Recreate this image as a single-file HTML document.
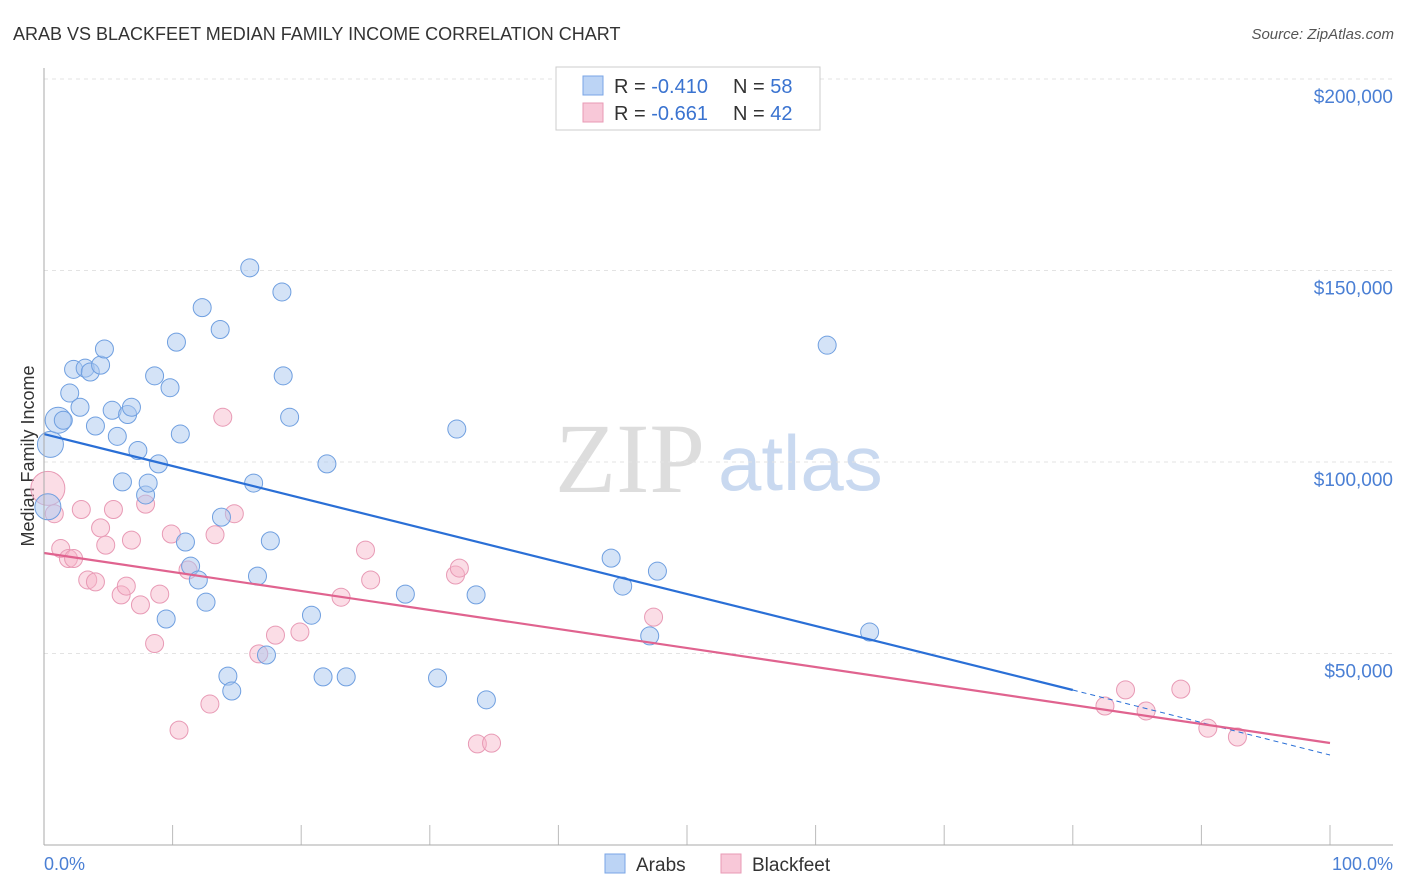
<!DOCTYPE html>
<html><head><meta charset="utf-8">
<style>
body{margin:0;background:#fff;font-family:"Liberation Sans",sans-serif;}
svg{display:block}
</style></head>
<body>
<svg id="chart" width="1406" height="892">
<text x="13" y="40" font-size="18" fill="#333">ARAB VS BLACKFEET MEDIAN FAMILY INCOME CORRELATION CHART</text>
<text x="1394" y="39" font-size="15" font-style="italic" fill="#555" text-anchor="end">Source: ZipAtlas.com</text>
<text transform="translate(34,456) rotate(-90)" font-size="18" fill="#333" text-anchor="middle">Median Family Income</text>
<text x="555" y="492" font-size="100" font-family="Liberation Serif,serif" fill="#ddd">ZIP</text>
<text x="718" y="490" font-size="78" fill="#c9d9f0">atlas</text>
<g id="grid"></g><g id="pts"></g><g id="lines"></g>
<line x1="44" y1="68" x2="44" y2="845" stroke="#aaa"/>
<line x1="44" y1="845" x2="1393" y2="845" stroke="#aaa"/>
<text x="44" y="870" font-size="18" fill="#4a7fd4">0.0%</text>
<text x="1393" y="870" font-size="18" fill="#4a7fd4" text-anchor="end">100.0%</text>
<g>
<rect x="556" y="67" width="264" height="63" fill="#fff" stroke="#ccc"/>
<rect x="583" y="76" width="20" height="19" fill="#bcd4f5" stroke="#7aa5e6"/>
<rect x="583" y="103" width="20" height="19" fill="#f8c8d8" stroke="#e89ab5"/>
<text x="614" y="93" font-size="20" fill="#333">R = <tspan fill="#3a73d0">-0.410</tspan><tspan x="733">N = </tspan><tspan fill="#3a73d0">58</tspan></text>
<text x="614" y="120" font-size="20" fill="#333">R = <tspan fill="#3a73d0"> -0.661</tspan><tspan x="733">N = </tspan><tspan fill="#3a73d0">42</tspan></text>
</g>
<g>
<rect x="605" y="854" width="20" height="19" fill="#bcd4f5" stroke="#7aa5e6"/>
<text x="636" y="871" font-size="19" fill="#333">Arabs</text>
<rect x="721" y="854" width="20" height="19" fill="#f8c8d8" stroke="#e89ab5"/>
<text x="752" y="871" font-size="19" fill="#333">Blackfeet</text>
</g>
</svg>
<script>
const yTicks=[50000,100000,150000,200000];
const yTickLabels=["$50,000","$100,000","$150,000","$200,000"];
const arabX=[0.5,1.1,1.5,2.0,2.3,2.8,3.2,3.6,4.0,4.4,4.7,5.3,5.7,6.1,6.5,6.8,7.3,7.9,8.1,8.6,8.9,9.5,9.8,10.3,10.6,11.0,11.4,12.0,12.3,12.6,13.7,13.8,14.3,14.6,16.0,16.3,16.6,17.3,17.6,18.5,18.6,19.1,20.8,21.7,22.0,23.5,28.1,30.6,32.1,33.6,34.4,44.1,45.0,47.1,47.7,60.9,64.2,0.3];
const arabY=[104600,110900,110900,118000,124200,114300,124500,123500,109400,125300,129500,113500,106700,94800,112400,114300,103000,91400,94500,122500,99500,59000,119400,131300,107300,79100,72800,69200,140300,63400,134600,85600,44100,40200,150700,94500,70200,49600,79400,144400,122500,111700,60000,43900,99500,43900,65500,43600,108600,65300,37900,74900,67600,54600,71500,130500,55600,88300];
const bfX=[0.3,0.8,1.3,1.9,2.3,2.9,3.4,4.0,4.4,4.8,5.4,6.0,6.4,6.8,7.5,7.9,8.6,9.0,9.9,10.5,11.2,12.9,13.3,13.9,14.8,16.7,18.0,19.9,23.1,25.0,25.4,32.0,32.3,33.7,34.8,47.4,82.5,84.1,85.7,88.4,90.5,92.8];
const bfY=[93100,86500,77400,74800,74800,87600,69200,68700,82800,78300,87600,65300,67600,79600,62700,89000,52600,65500,81200,30000,71800,36800,81000,111700,86500,49900,54800,55600,64700,77000,69200,70500,72300,26400,26600,59500,36300,40500,35000,40700,30500,28200];
const arabTrend=[[0,107300],[80,40470],[100,23500]];
const bfTrend=[[0,76240],[100,26630]];
const X=v=>44+v*12.86, Y=v=>845-v*191.5/50000;
const NS="http://www.w3.org/2000/svg";
function mk(t,a,p){const e=document.createElementNS(NS,t);for(const k in a)e.setAttribute(k,a[k]);p.appendChild(e);return e;}
const grid=document.getElementById('grid');
yTicks.forEach((v,i)=>{
 const l=mk('line',{x1:44,x2:1393,y1:Y(v),y2:Y(v),stroke:'#e3e3e3','stroke-dasharray':'4,4'},grid);
 
 
 const t=mk('text',{x:1393,y:Y(v)+24,'font-size':19,fill:'#4a7fd4','text-anchor':'end'},grid);
 t.textContent=yTickLabels[i];
 
 
});
mk('line',{x1:44,x2:1393,y1:79,y2:79,stroke:'#e3e3e3','stroke-dasharray':'4,4'},grid);
for(let i=1;i<=10;i++){const t=mk('line',{x1:X(i*10),x2:X(i*10),y1:825,y2:845,stroke:'#bbb'},grid);
 
 }
const pts=document.getElementById('pts');
bfX.forEach((x,i)=>{const c=mk('circle',{cx:X(x),cy:Y(bfY[i]),r:i==0?17:9,fill:'rgba(246,180,200,0.45)',stroke:'#e89ab5','stroke-width':1},pts);
 
 });
arabX.forEach((x,i)=>{const big=i<2||i==57;const c=mk('circle',{cx:X(x),cy:Y(arabY[i]),r:big?13:9,fill:'rgba(170,200,240,0.5)',stroke:'#6f9fe0','stroke-width':1},pts);
 
 });
const lines=document.getElementById('lines');
let a=mk('line',{x1:X(arabTrend[0][0]),y1:Y(arabTrend[0][1]),x2:X(arabTrend[1][0]),y2:Y(arabTrend[1][1]),stroke:'#2a6fd6','stroke-width':2.2},lines);


let d=mk('line',{x1:X(arabTrend[1][0]),y1:Y(arabTrend[1][1]),x2:X(arabTrend[2][0]),y2:Y(arabTrend[2][1]),stroke:'#2a6fd6','stroke-width':1,'stroke-dasharray':'5,4'},lines);


let b=mk('line',{x1:X(bfTrend[0][0]),y1:Y(bfTrend[0][1]),x2:X(bfTrend[1][0]),y2:Y(bfTrend[1][1]),stroke:'#e0638f','stroke-width':2.2},lines);


</script>
</body></html>
